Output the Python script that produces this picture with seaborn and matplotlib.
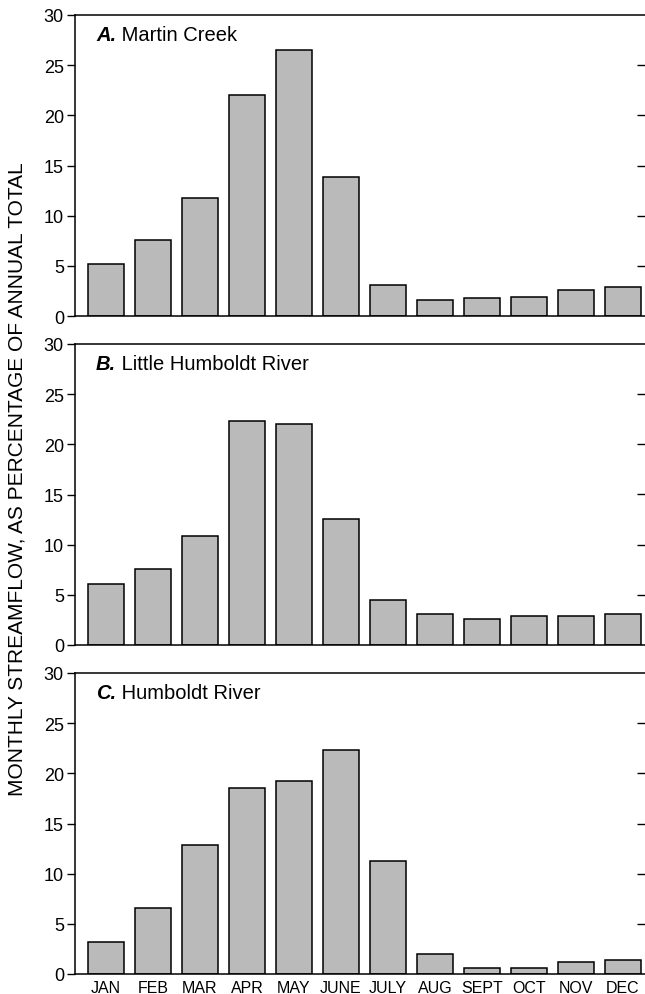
import numpy as np
import pandas as pd
import matplotlib
matplotlib.use("Agg")
import matplotlib.pyplot as plt
import seaborn as sns

# -------------------------------
# Data (percent of annual total streamflow)
# -------------------------------
months = ["JAN", "FEB", "MAR", "APR", "MAY", "JUNE",
          "JULY", "AUG", "SEPT", "OCT", "NOV", "DEC"]

martin_creek = [5.2, 7.6, 11.8, 22.0, 26.5, 13.9, 3.05, 1.6, 1.75, 1.9, 2.55, 2.9]
little_humboldt = [6.1, 7.6, 10.9, 22.3, 22.0, 12.6, 4.5, 3.1, 2.6, 2.85, 2.9, 3.1]
humboldt = [3.15, 6.55, 12.9, 18.55, 19.2, 22.3, 11.3, 1.95, 0.55, 0.6, 1.2, 1.35]

panel_letters = ["A.", "B.", "C."]
panel_names = ["Martin Creek", "Little Humboldt River", "Humboldt River"]
series = [martin_creek, little_humboldt, humboldt]

yticks = [0, 5, 10, 15, 20, 25, 30]

# -------------------------------
# Style
# -------------------------------
sns.set_theme(style="white")
plt.rcParams["font.family"] = ["Liberation Sans", "DejaVu Sans"]
plt.rcParams["text.color"] = "black"
plt.rcParams["xtick.color"] = "black"
plt.rcParams["ytick.color"] = "black"

bar_color = "#bababa"

fig = plt.figure(figsize=(6.45, 9.95), dpi=100)

# axes positions in figure fraction
left = 75 / 645
width = 1.0 - left
tops = [16, 345, 674]
h_px = 301

for i, (letter, name, vals) in enumerate(zip(panel_letters, panel_names, series)):
    bottom = 1 - (tops[i] + h_px) / 995
    ax = fig.add_axes([left, bottom, width, h_px / 995])

    df = pd.DataFrame({"month": months, "pct": vals})
    sns.barplot(data=df, x="month", y="pct", color=bar_color, saturation=1,
                edgecolor="black", linewidth=1.1, width=0.77, ax=ax)

    ax.set_xlim(-0.66, 11.47)
    ax.set_ylim(0, 30)
    ax.set_yticks(yticks)
    ax.set_xlabel("")
    ax.set_ylabel("")

    for side in ["left", "top", "bottom"]:
        ax.spines[side].set_visible(True)
        ax.spines[side].set_color("black")
        ax.spines[side].set_linewidth(1.1)
    ax.spines["right"].set_visible(False)

    ax.tick_params(axis="y", which="both", left=True, direction="out",
                   length=6, width=1, colors="black", labelsize=13, pad=2)
    ax.tick_params(axis="x", bottom=False, length=0, labelsize=11.5, pad=4,
                   colors="black")
    if i < 2:
        ax.set_xticklabels([])

    # inward ticks along the right edge
    sec = ax.secondary_yaxis("right")
    sec.set_yticks([5, 10, 15, 20, 25])
    sec.tick_params(direction="in", length=6, width=1, labelright=False, colors="black")
    sec.spines["right"].set_visible(False)

    # panel label: bold italic letter + regular name
    t1 = ax.text(0.037, 28.1, letter, transform=ax.get_yaxis_transform(),
                 fontsize=14.5, fontweight="bold", fontstyle="italic",
                 va="center", ha="left", color="black")
    ax.annotate(" " + name, xy=(1, 0), xycoords=t1, fontsize=14.5,
                va="bottom", ha="left", color="black")

fig.text(0.027, 1 - 479 / 995,
         "MONTHLY STREAMFLOW, AS PERCENTAGE OF ANNUAL TOTAL",
         rotation=90, ha="center", va="center", fontsize=15, color="black")

fig.savefig("out.png", dpi=100)
plt.close(fig)
